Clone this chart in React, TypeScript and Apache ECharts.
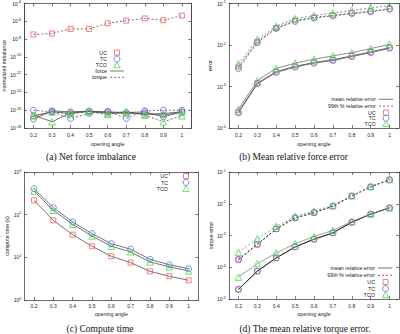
import React, { useEffect, useRef } from 'react';
import * as echarts from 'echarts';

// ---------- data ----------
const angles = [0.2, 0.3, 0.4, 0.5, 0.6, 0.7, 0.8, 0.9, 1.0];
// (a) decade exponents labelled every 2 decades
const yExpMinA = -18;
const yExpMaxA = -4;
const yExpStepA = 2;

// (a) Net force imbalance
const ucForceA = [2.3e-17, 6.5e-17, 4.3e-17, 7.7e-17, 5.5e-17, 4.3e-17, 4.3e-17, 2.8e-17, 6.5e-17];
const ucTorqueA = [3.3e-8, 4.3e-8, 1.4e-7, 1.4e-7, 6e-7, 1.2e-6, 2.1e-6, 1.3e-6, 4.3e-6];
const tcForceA = [1e-17, 8.4e-17, 6.5e-17, 7.7e-17, 6.5e-17, 5.5e-17, 6.5e-17, 1.8e-17, 6.5e-17];
const tcTorqueA = [1e-16, 6.5e-17, 1.2e-17, 4.3e-17, 7.7e-17, 1.2e-17, 8.4e-17, 1e-16, 1e-16];
const tcoForceA = [2.8e-17, 5e-18, 5.5e-17, 7.7e-17, 4.3e-17, 6.5e-17, 3.3e-17, 4.3e-17, 6.5e-17];
const tcoTorqueA = [2.3e-17, 6.5e-17, 4.3e-17, 6.5e-17, 3.3e-17, 6.5e-17, 2.8e-17, 5e-18, 2.3e-17];

// (b) Mean relative force error
const ucMeanB = [2.45e-4, 1.2e-3, 2.28e-3, 3.05e-3, 3.8e-3, 4.4e-3, 5.47e-3, 6.8e-3, 8.65e-3];
const tcMeanB = [2.3e-4, 1.16e-3, 2.19e-3, 2.94e-3, 3.66e-3, 4.24e-3, 5.27e-3, 6.56e-3, 8.34e-3];
const tcoMeanB = [2.83e-4, 1.39e-3, 2.73e-3, 3.66e-3, 4.57e-3, 5.47e-3, 6.56e-3, 8.2e-3, 1.04e-2];
const uc99B = [3.0e-3, 1.2e-2, 2.58e-2, 3.9e-2, 4.6e-2, 5.2e-2, 5.9e-2, 6.5e-2, 7.5e-2];
const tc99B = [2.7e-3, 1.13e-2, 2.5e-2, 3.7e-2, 4.5e-2, 5.0e-2, 5.7e-2, 6.3e-2, 7.3e-2];
const tco99B = [3.5e-3, 1.36e-2, 2.83e-2, 4.3e-2, 5.1e-2, 5.9e-2, 6.8e-2, 7.8e-2, 8.95e-2];

// (c) Compute time (s)
const ucTimeC = [217, 73.8, 34, 18.2, 10.6, 7.5, 4.7, 3.6, 2.9];
const tcTimeC = [406, 146, 67.5, 35.9, 20.9, 15.5, 9.0, 6.7, 5.4];
const tcoTimeC = [359, 127, 59.6, 31.6, 18.2, 13.4, 7.8, 6.0, 4.8];

// (d) Mean relative torque error
const ucMeanD = [2.0e-5, 7.5e-5, 1.95e-4, 4.35e-4, 7.6e-4, 1.2e-3, 2.6e-3, 4.7e-3, 7.4e-3];
const tcMeanD = [2.0e-5, 7.6e-5, 1.97e-4, 4.4e-4, 7.7e-4, 1.22e-3, 2.62e-3, 4.7e-3, 7.4e-3];
const tcoMeanD = [4.9e-5, 1.3e-4, 2.8e-4, 5.5e-4, 9.3e-4, 1.45e-3, 2.75e-3, 4.8e-3, 7.5e-3];
const uc99D = [1.74e-4, 5.2e-4, 1.6e-3, 3.55e-3, 5.2e-3, 8.3e-3, 1.75e-2, 3.4e-2, 5.7e-2];
const tc99D = [1.76e-4, 5.3e-4, 1.62e-3, 3.6e-3, 5.3e-3, 8.4e-3, 1.76e-2, 3.4e-2, 5.7e-2];
const tco99D = [3.0e-4, 7.9e-4, 1.95e-3, 4.0e-3, 5.9e-3, 8.9e-3, 1.8e-2, 3.5e-2, 5.8e-2];

const captions = ['(a) Net force imbalance', '(b) Mean relative force error', '(c) Compute time', '(d) The mean relative torque error.'];
const yNames = ['normalized imbalance', 'error', 'compute time (s)', 'torque error'];
const xName = 'opening angle';

// ---------- styles ----------
const RED = '#f06060';
const BLUE = '#6060f4';
const GREEN = '#48dc48';
const LINE = '#505050';
const AXIS = '#444';
const SANS = 'Liberation Sans, Arial, sans-serif';
const SERIF = 'Liberation Serif, Times New Roman, serif';
const DASH = [2, 2];

const sym = {
  UC: { symbol: 'rect', size: 5, color: RED },
  TC: { symbol: 'circle', size: 6, color: BLUE },
  TCO: { symbol: 'triangle', size: 6.5, color: GREEN },
};

const grids = [
  { left: 24.2, top: 2, width: 167, height: 126 },
  { left: 229, top: 2, width: 170, height: 126 },
  { left: 24.3, top: 172, width: 174, height: 128 },
  { left: 229, top: 172, width: 170, height: 127 },
];

const yRanges: any[] = [
  { min: 1e-18, max: 1e-4 },
  { min: 1e-4, max: 1e-1 },
  { min: 1, max: 1000 },
  { min: 1e-5, max: 1e-1 },
];

const yNameGaps = [18, 16.5, 14.5, 14.5];
const xNameGaps = [13.2, 13.2, 11.2, 12.2];
const xLabelMargins = [4.5, 4.5, 3.5, 4.5];

const richLabel = {
  b: { fontSize: 5, fontFamily: SANS, color: '#222', lineHeight: 7 },
  s: { fontSize: 3.8, fontFamily: SANS, color: '#222', lineHeight: 4, verticalAlign: 'top' },
};

function makeSeries(g: number, kind: 'UC' | 'TC' | 'TCO', vals: number[], dashed: boolean, lineColor = LINE) {
  const s = sym[kind];
  return {
    type: 'line',
    xAxisIndex: g,
    yAxisIndex: g,
    data: angles.map((a, i) => [a, vals[i]]),
    symbol: s.symbol,
    symbolSize: s.size,
    showSymbol: true,
    showAllSymbol: true,
    itemStyle: { color: 'rgba(0,0,0,0)', borderColor: s.color, borderWidth: 0.8 },
    lineStyle: { color: lineColor, width: 0.8, type: dashed ? DASH : 'solid' },
    emphasis: { disabled: true },
    silent: true,
    z: 3,
  };
}

function legendEls(rows: any[], textRight: number, markerX: number, lineX0: number, lineX1: number) {
  const els: any[] = [];
  rows.forEach((r) => {
    els.push({
      type: 'text',
      x: textRight,
      y: r.y,
      style: { text: r.label, fontSize: 5.3, fontFamily: SANS, fill: '#222', align: 'right', verticalAlign: 'middle' },
    });
    if (r.kind === 'line') {
      els.push({
        type: 'line',
        shape: { x1: lineX0, y1: r.y, x2: lineX1, y2: r.y },
        style: { stroke: LINE, lineWidth: 0.8, lineDash: r.dashed ? DASH : null },
      });
    } else if (r.kind === 'UC') {
      els.push({
        type: 'rect',
        shape: { x: markerX - 2.5, y: r.y - 2.5, width: 5, height: 5 },
        style: { fill: 'none', stroke: RED, lineWidth: 0.8 },
      });
    } else if (r.kind === 'TC') {
      els.push({
        type: 'circle',
        shape: { cx: markerX, cy: r.y, r: 3 },
        style: { fill: 'none', stroke: BLUE, lineWidth: 0.8 },
      });
    } else if (r.kind === 'TCO') {
      els.push({
        type: 'polygon',
        shape: { points: [[markerX, r.y - 3.2], [markerX - 3.2, r.y + 2.4], [markerX + 3.2, r.y + 2.4]] },
        style: { fill: 'none', stroke: GREEN, lineWidth: 0.8 },
      });
    }
  });
  return els;
}

function logLabel(v: number) {
  const e = Math.round(Math.log10(v));
  return `{b|10}{s|${e}}`;
}
function expLabel(e: number) {
  return `{b|10}{s|${Math.round(e)}}`;
}

export default function App() {
  const ref = useRef<HTMLDivElement>(null);
  useEffect(() => {
    if (!ref.current) return;
    const chart = echarts.init(ref.current, undefined, { renderer: 'svg' });

    const tickStyle = { show: true, inside: true, length: 3, lineStyle: { color: AXIS, width: 0.7 } };
    const lineStyle = { show: true, lineStyle: { color: AXIS, width: 0.8 } };

    const xAxes: any[] = [];
    const yAxes: any[] = [];
    grids.forEach((_, g) => {
      xAxes.push({
        type: 'value',
        gridIndex: g,
        min: 0.15,
        max: 1.05,
        position: 'bottom',
        name: xName,
        nameLocation: 'middle',
        nameGap: xNameGaps[g],
        nameTextStyle: { fontSize: 5.3, fontFamily: SANS, color: '#222' },
        axisLine: lineStyle,
        axisTick: { ...tickStyle, customValues: angles },
        splitLine: { show: false },
        axisLabel: {
          show: true,
          customValues: angles,
          margin: xLabelMargins[g],
          fontSize: 5,
          fontFamily: SANS,
          color: '#222',
          formatter: (v: number) => String(Number(v.toFixed(1))),
        },
      });
      const yr = yRanges[g];
      const isA = g === 0;
      yAxes.push({
        type: 'log',
        gridIndex: g,
        min: yr.min,
        max: yr.max,
        logBase: 10,
        position: 'left',
        name: yNames[g],
        nameLocation: 'middle',
        nameGap: yNameGaps[g],
        nameTextStyle: { fontSize: 5.3, fontFamily: SANS, color: '#222' },
        axisLine: lineStyle,
        axisTick: isA ? { show: false } : tickStyle,
        axisLabel: isA ? { show: false } : { show: true, margin: 3, formatter: logLabel, rich: richLabel },
        splitLine: { show: false },
        minorTick: { show: false },
      });
    });
    // mirror axes (top / right ticks)
    grids.forEach((_, g) => {
      xAxes.push({
        type: 'value',
        gridIndex: g,
        min: 0.15,
        max: 1.05,
        position: 'top',
        axisLine: lineStyle,
        axisTick: { ...tickStyle, customValues: angles },
        axisLabel: { show: false },
        splitLine: { show: false },
      });
      const yr = yRanges[g];
      const isA = g === 0;
      yAxes.push({
        type: 'log',
        gridIndex: g,
        min: yr.min,
        max: yr.max,
        logBase: 10,
        position: 'right',
        axisLine: lineStyle,
        axisTick: isA ? { show: false } : tickStyle,
        axisLabel: { show: false },
        splitLine: { show: false },
      });
    });
    // (a): tick/label axes in decade exponents (same pixel mapping as the log axis)
    yAxes.push({
      type: 'value',
      gridIndex: 0,
      min: yExpMinA,
      max: yExpMaxA,
      interval: yExpStepA,
      position: 'left',
      axisLine: lineStyle,
      axisTick: tickStyle,
      axisLabel: { show: true, margin: 3, formatter: expLabel, rich: richLabel },
      splitLine: { show: false },
    });
    yAxes.push({
      type: 'value',
      gridIndex: 0,
      min: yExpMinA,
      max: yExpMaxA,
      interval: yExpStepA,
      position: 'right',
      axisLine: lineStyle,
      axisTick: tickStyle,
      axisLabel: { show: false },
      splitLine: { show: false },
    });

    const series: any[] = [
      // (a)
      makeSeries(0, 'UC', ucForceA, false),
      makeSeries(0, 'UC', ucTorqueA, true),
      makeSeries(0, 'TC', tcForceA, false),
      makeSeries(0, 'TC', tcTorqueA, true),
      makeSeries(0, 'TCO', tcoForceA, false),
      makeSeries(0, 'TCO', tcoTorqueA, true),
      // (b)
      makeSeries(1, 'UC', ucMeanB, false),
      makeSeries(1, 'TC', tcMeanB, false),
      makeSeries(1, 'TCO', tcoMeanB, false, '#707070'),
      makeSeries(1, 'UC', uc99B, true),
      makeSeries(1, 'TC', tc99B, true),
      makeSeries(1, 'TCO', tco99B, true, '#707070'),
      // (c)
      makeSeries(2, 'UC', ucTimeC, false),
      makeSeries(2, 'TC', tcTimeC, false),
      makeSeries(2, 'TCO', tcoTimeC, false),
      // (d)
      makeSeries(3, 'UC', ucMeanD, false, '#222'),
      makeSeries(3, 'TC', tcMeanD, false, '#222'),
      makeSeries(3, 'TCO', tcoMeanD, false, '#888'),
      makeSeries(3, 'UC', uc99D, true, '#222'),
      makeSeries(3, 'TC', tc99D, true, '#222'),
      makeSeries(3, 'TCO', tco99D, true, '#888'),
    ];

    const graphic: any[] = [
      ...legendEls(
        [
          { label: 'UC', kind: 'UC', y: 52.7 },
          { label: 'TC', kind: 'TC', y: 59 },
          { label: 'TCO', kind: 'TCO', y: 65.3 },
          { label: 'force', kind: 'line', dashed: false, y: 71 },
          { label: 'torque', kind: 'line', dashed: true, y: 77.3 },
        ],
        107, 117, 110, 124,
      ),
      ...legendEls(
        [
          { label: 'mean relative error', kind: 'line', dashed: false, y: 99.3 },
          { label: '99th % relative error', kind: 'line', dashed: true, y: 106 },
          { label: 'UC', kind: 'UC', y: 112.7 },
          { label: 'TC', kind: 'TC', y: 118.3 },
          { label: 'TCO', kind: 'TCO', y: 124 },
        ],
        375.7, 386, 379, 393,
      ),
      ...legendEls(
        [
          { label: 'UC', kind: 'UC', y: 176 },
          { label: 'TC', kind: 'TC', y: 182.5 },
          { label: 'TCO', kind: 'TCO', y: 189 },
        ],
        168, 186, 0, 0,
      ),
      ...legendEls(
        [
          { label: 'mean relative error', kind: 'line', dashed: false, y: 268 },
          { label: '99th % relative error', kind: 'line', dashed: true, y: 275.3 },
          { label: 'UC', kind: 'UC', y: 282 },
          { label: 'TC', kind: 'TC', y: 288.7 },
          { label: 'TCO', kind: 'TCO', y: 295.3 },
        ],
        375, 385.5, 378, 392,
      ),
      ...[
        { x: 91, y: 157 },
        { x: 293.5, y: 157 },
        { x: 100, y: 329 },
        { x: 305, y: 329 },
      ].map((p, i) => ({
        type: 'text',
        x: p.x,
        y: p.y,
        style: { text: captions[i], fontSize: 9.5, fontFamily: SERIF, fill: '#111', align: 'center', verticalAlign: 'middle' },
      })),
    ];

    chart.setOption({
      animation: false,
      backgroundColor: '#fff',
      grid: grids.map((g) => ({ ...g, containLabel: false, show: false })),
      xAxis: xAxes,
      yAxis: yAxes,
      series,
      graphic,
    });
    return () => chart.dispose();
  }, []);
  return <div ref={ref} style={{ position: 'fixed', left: 0, top: 0, width: 400, height: 334 }} />;
}
